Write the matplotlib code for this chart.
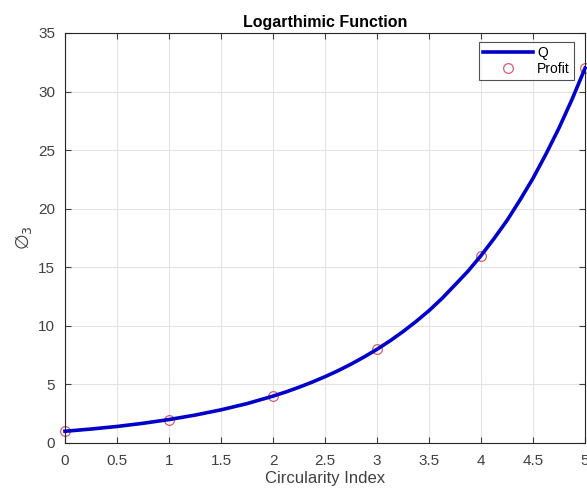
import matplotlib
matplotlib.use("Agg")
import matplotlib.pyplot as plt

# curve Q
q_x = [0, 0.25, 0.5, 0.75, 1, 1.25, 1.5, 1.75, 2, 2.125, 2.25, 2.375, 2.5,
       2.625, 2.75, 2.875, 3, 3.125, 3.25, 3.375, 3.5, 3.625, 3.75, 3.875,
       4, 4.125, 4.25, 4.375, 4.5, 4.625, 4.75, 4.875, 5]
q_y = [1.0, 1.19, 1.41, 1.68, 2.0, 2.38, 2.83, 3.36, 4.0, 4.36, 4.76, 5.19,
       5.66, 6.17, 6.73, 7.34, 8.0, 8.72, 9.51, 10.37, 11.3, 12.34, 13.5,
       14.67, 16.0, 17.45, 19.0, 20.75, 22.6, 24.68, 26.9, 29.34, 32.0]

# profit markers
profit_x = [0, 1, 2, 3, 4, 5]
profit_y = [1, 2, 4, 8, 16, 32]

x_ticks = [0, 0.5, 1, 1.5, 2, 2.5, 3, 3.5, 4, 4.5, 5]
x_tick_labels = ["0", "0.5", "1", "1.5", "2", "2.5", "3", "3.5", "4", "4.5", "5"]
y_ticks = [0, 5, 10, 15, 20, 25, 30, 35]

plt.rcParams['font.family'] = ['Liberation Sans', 'DejaVu Sans']

fig = plt.figure(figsize=(5.87, 4.91), dpi=100)
ax = fig.add_axes([0.1107, 0.0978, 0.886, 0.835])

ax.plot(profit_x, profit_y, 'o', markerfacecolor='none', markeredgecolor='#d0606f',
        markersize=7, markeredgewidth=0.9, label='Profit', zorder=2, clip_on=False)
ax.plot(q_x, q_y, '-', color='#0000c8', linewidth=2.6, label='Q', zorder=3,
        clip_on=False, solid_joinstyle='round')

ax.set_xlim(0, 5)
ax.set_ylim(0, 35)
ax.set_xticks(x_ticks)
ax.set_xticklabels(x_tick_labels)
ax.set_yticks(y_ticks)

ax.grid(True, color='#e3e3e3', linewidth=0.8)
ax.set_axisbelow(True)
ax.tick_params(direction='in', length=4, colors='#404040', labelsize=11,
               top=True, right=True, labeltop=False, labelright=False)
ax.tick_params(axis='x', pad=8)
ax.tick_params(axis='y', pad=7)
for sp in ax.spines.values():
    sp.set_color('#262626')
    sp.set_linewidth(0.8)

ax.set_title('Logarthimic Function', fontsize=11.5, fontweight='bold', pad=4)
ax.set_xlabel('Circularity Index', fontsize=12, color='#404040', labelpad=2)
ax.set_ylabel(r'$\varnothing_3$', fontsize=13, color='#404040', labelpad=3)

handles, labels = ax.get_legend_handles_labels()
leg = ax.legend(handles[::-1], labels[::-1], loc='upper right',
                bbox_to_anchor=(0.979, 0.978), borderaxespad=0, fontsize=10,
                frameon=True, fancybox=False, edgecolor='#262626',
                handlelength=3.6, borderpad=0.3, labelspacing=0.15,
                handletextpad=0.3)
leg.get_frame().set_linewidth(0.8)

fig.savefig("out.png", dpi=100)
